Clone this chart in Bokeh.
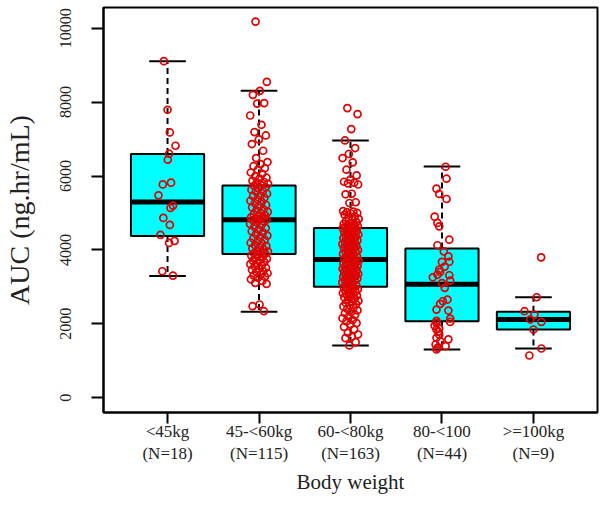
import numpy as np
from bokeh.plotting import figure
from bokeh.models import FixedTicker, Range1d
from bokeh.embed import file_html
from bokeh.resources import INLINE

# ---------------- data ----------------
categories = ["<45kg", "45-<60kg", "60-<80kg", "80-<100", ">=100kg"]
counts = [18, 115, 163, 44, 9]
positions = [1, 2, 3, 4, 5]

q1 = [4378, 3892, 3000, 2070, 1846]
median = [5297, 4819, 3738, 3070, 2116]
q3 = [6594, 5746, 4595, 4035, 2324]
whisk_lo = [3297, 2324, 1414, 1305, 1332]
whisk_hi = [9108, 8305, 6962, 6259, 2719]

auc_lt45 = [9108, 7792, 7178, 6819, 6603, 6441, 5819, 5773, 5476, 5200, 5135,
            4865, 4676, 4405, 4243, 4189, 3422, 3305]
jit_lt45 = [-0.04, 0.00, 0.025, 0.087, 0.017, 0.003, 0.038, -0.052, -0.099, 0.06,
            0.032, -0.046, 0.025, -0.077, 0.077, 0.017, -0.057, 0.059]

auc_45_60 = [10178, 8549, 8305, 8197, 7973, 7960, 7638, 7386, 7189, 7097,
             6989, 6865, 6684, 6486, 6378, 6320, 6265, 6210, 6170, 6095,
             6060, 5990, 5954, 5930, 5870, 5845, 5810, 5785, 5755,
             5735, 5690, 5672, 5630, 5590, 5575, 5520, 5470, 5455, 5410,
             5370, 5330, 5300, 5262, 5215, 5190, 5150, 5095, 5070, 5030,
             4995, 4960, 4935, 4905, 4880, 4866, 4842, 4825,
             4819,
             4805, 4772, 4748, 4702, 4668, 4630, 4590, 4548, 4505, 4470,
             4428, 4385, 4350, 4312, 4270, 4240, 4195, 4168, 4125, 4102,
             4065, 4040, 4008, 3975, 3952, 3930, 3910, 3896,
             3878, 3846, 3825, 3790, 3762, 3728, 3705, 3668, 3640, 3615,
             3575, 3552, 3518, 3490, 3462, 3425, 3405, 3368, 3335, 3312,
             3276, 3248, 3205, 3160, 3108, 3081, 2522, 2476, 2341]

auc_60_80 = [7838, 7676, 7270, 6962, 6757, 6595, 6486, 6368, 6170, 6016,
             5900, 5845, 5822, 5800, 5770, 5520, 5505, 5290, 5270, 5050,
             5035, 5020, 5000, 4985, 4950, 4905, 4875, 4840, 4810, 4785,
             4750, 4728, 4700, 4685, 4662, 4648, 4630, 4622, 4610, 4600,
             4585, 4560, 4548, 4515, 4502, 4478, 4455, 4446, 4418, 4396,
             4380, 4355, 4342, 4318, 4296, 4285, 4260, 4238, 4226, 4198,
             4180, 4155, 4142, 4118, 4096, 4082, 4055, 4040, 4018, 3996,
             3978, 3955, 3942, 3915, 3895, 3872, 3846, 3818, 3790, 3762,
             3738,
             3722, 3705, 3688, 3672, 3655, 3641, 3622, 3606, 3590, 3572,
             3556, 3540, 3522, 3505, 3490, 3472, 3455, 3440, 3422, 3405,
             3390, 3372, 3355, 3340, 3322, 3305, 3290, 3272, 3255, 3240,
             3222, 3205, 3186, 3165, 3146, 3122, 3094, 3066, 3040, 3012,
             2992, 2975, 2952, 2935, 2910, 2892, 2870, 2855, 2830, 2812,
             2788, 2765, 2742, 2715, 2686, 2655, 2622, 2595, 2562, 2535,
             2502, 2470, 2440, 2405, 2362, 2322, 2285, 2240, 2195, 2150,
             2102, 2065, 2020, 1985, 1919, 1850, 1757, 1711, 1650, 1611,
             1505, 1414]

auc_80_100 = [6251, 5927, 5657, 5514, 5378, 4900, 4730, 4638, 4278, 4126,
              3962, 3827, 3676, 3680, 3549, 3468, 3405, 3332, 3259, 3314,
              3170, 3100, 2973, 2657, 2611, 2541, 2386, 2359, 2143, 2080,
              2050, 2027, 1950, 1873, 1846, 1780, 1711, 1622, 1580, 1530,
              1441, 1395, 1350, 1305]
jit_80_100 = [0.04, 0.05, -0.06, -0.03, 0.05, -0.08, -0.05, -0.03, 0.08, -0.05,
              0.02, 0.07, 0.0, 0.08, 0.03, -0.03, -0.02, -0.05, -0.10, 0.08,
              0.09, 0.0, 0.03, 0.06, 0.01, -0.02, -0.06, 0.07, 0.09, -0.06,
              0.09, -0.06, -0.08, -0.03, -0.06, -0.04, -0.03, -0.06, 0.07, -0.02,
              -0.07, 0.04, -0.05, -0.06]

auc_ge100 = [3800, 2719, 2341, 2250, 2116, 2054, 1846, 1332, 1143]
jit_ge100 = [0.084, 0.035, -0.098, 0.01, -0.035, 0.087, 0.0, 0.087, -0.045]


def spread(n, amount=0.1):
    # deterministic (non-random) low-discrepancy horizontal spread
    k = np.arange(n)
    return ((k * 0.6180339887 + 0.31) % 1.0 - 0.5) * 2 * amount


groups = [
    (auc_lt45, np.array(jit_lt45)),
    (auc_45_60, spread(len(auc_45_60))),
    (auc_60_80, spread(len(auc_60_80), 0.09)),
    (auc_80_100, np.array(jit_80_100)),
    (auc_ge100, np.array(jit_ge100)),
]

SERIF = "Liberation Serif"

p = figure(width=599, height=504, output_backend="svg", toolbar_location=None,
           x_range=Range1d(0.3, 5.7), y_range=Range1d(-400, 10560),
           min_border_left=100, min_border_right=2, min_border_top=7,
           min_border_bottom=92)
p.xgrid.visible = False
p.ygrid.visible = False
p.outline_line_color = "black"
p.outline_line_width = 2
p.background_fill_color = "white"
p.border_fill_color = "white"

pos = np.array(positions, dtype=float)

# whiskers (dashed) and caps
p.segment(x0=pos, x1=pos, y0=q3, y1=whisk_hi, line_color="black",
          line_width=2, line_dash="6 4")
p.segment(x0=pos, x1=pos, y0=q1, y1=whisk_lo, line_color="black",
          line_width=2, line_dash="6 4")
p.segment(x0=pos - 0.2, x1=pos + 0.2, y0=whisk_hi, y1=whisk_hi,
          line_color="black", line_width=2)
p.segment(x0=pos - 0.2, x1=pos + 0.2, y0=whisk_lo, y1=whisk_lo,
          line_color="black", line_width=2)

# boxes
p.vbar(x=pos, width=0.8, bottom=q1, top=q3, fill_color="#00FFFF",
       line_color="black", line_width=2)
p.segment(x0=pos - 0.4, x1=pos + 0.4, y0=median, y1=median,
          line_color="black", line_width=5)

# jittered points
for i, (vals, jit) in enumerate(groups):
    xs = positions[i] + jit
    p.scatter(x=xs, y=vals, marker="circle", size=7, fill_color=None,
              line_color="#e00000", line_width=1.7)

# x axis
p.xaxis.ticker = FixedTicker(ticks=positions)
p.xaxis.major_label_overrides = {
    pp: f"{c}\n(N={n})" for pp, c, n in zip(positions, categories, counts)
}
p.xaxis.axis_label = "Body weight"
p.xaxis.minor_tick_line_color = None
p.xaxis.major_tick_out = 11
p.xaxis.major_tick_in = 0
p.xaxis.major_tick_line_width = 2
p.xaxis.major_label_standoff = -2
p.xaxis.axis_label_standoff = 4

# y axis
p.yaxis.ticker = FixedTicker(ticks=[0, 2000, 4000, 6000, 8000, 10000])
p.yaxis.axis_label = "AUC (ng.hr/mL)"
p.yaxis.major_label_orientation = "vertical"
p.yaxis.minor_tick_line_color = None
p.yaxis.major_tick_out = 12
p.yaxis.major_tick_in = 0
p.yaxis.major_tick_line_width = 2
p.yaxis.major_label_standoff = 20
p.yaxis.axis_label_standoff = 23

for ax in (p.xaxis[0], p.yaxis[0]):
    ax.axis_line_color = "black"
    ax.axis_line_width = 2
    ax.major_label_text_font = SERIF
    ax.major_label_text_color = "#222222"
    ax.axis_label_text_font = SERIF
    ax.axis_label_text_font_style = "normal"
    ax.axis_label_text_color = "#222222"
    ax.major_tick_line_color = "black"

p.xaxis.major_label_text_font_size = "17px"
p.yaxis.major_label_text_font_size = "16px"
p.xaxis.axis_label_text_font_size = "21px"
p.yaxis.axis_label_text_font_size = "28px"

open("out.html", "w").write(file_html(p, INLINE))
